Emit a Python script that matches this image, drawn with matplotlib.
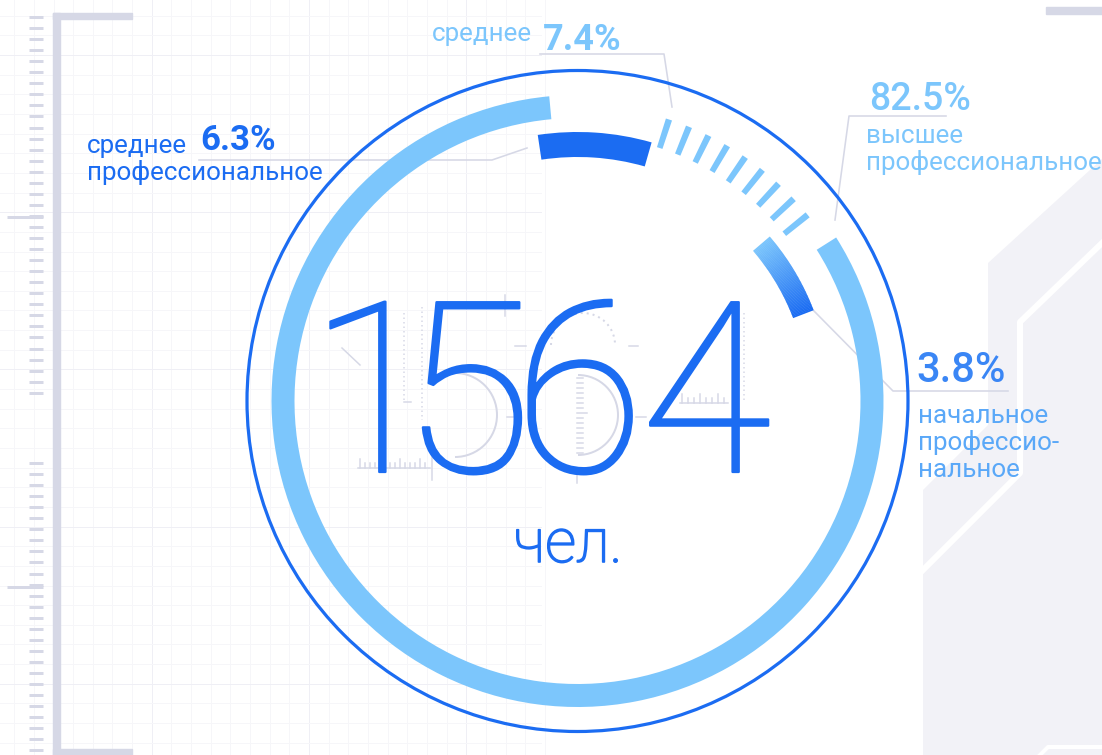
import numpy as np
import matplotlib.pyplot as plt
import matplotlib.patheffects as pe
from matplotlib.patches import Wedge, Polygon, Arc, Rectangle
from matplotlib.colors import to_rgb


# данные
shares = [6.3, 7.4, 82.5, 3.8]
share_labels = ['6.3%', '7.4%', '82.5%', '3.8%']
level_first = ['среднее', 'среднее', 'высшее', 'начальное']
level_rest = [['профессиональное'], [], ['профессиональное'], ['профессио-', 'нальное']]
total = '1564'
unit = 'чел.'

DARK = '#1b6cf2'
LIGHT = '#7cc6fc'
GREY = '#d6d8e6'
PALE = '#f2f2f7'
PX = 0.72  # px -> pt при dpi=100

cx, cy = 577.5, 401
plt.rcParams['font.family'] = ['Roboto', 'DejaVu Sans']


# дуга в экранных градусах (против часовой стрелки от a_from до a_to)
def ring(ax, r_out, width, a_from, a_to, color, z=3):
    ax.add_patch(Wedge((cx, cy), r_out, -a_to, -a_from, width=width,
                       facecolor=color, edgecolor='none', zorder=z))


def draw_background(ax):
    # сетка слева
    step = 19.65
    for i, x in enumerate(np.arange(-5.4, 545, step)):
        c = '#efeff5' if i % 8 == 0 else '#f6f6f9'
        ax.plot([x, x], [0, 755], color=c, lw=PX, zorder=0)
    for i, y in enumerate(np.arange(-3.95, 760, step)):
        c = '#efeff5' if i % 8 == 3 else '#f6f6f9'
        ax.plot([0, 541], [y, y], color=c, lw=PX, zorder=0)

    # линейка слева
    ax.add_patch(Rectangle((53, 13), 7, 742, color=GREY, zorder=1))
    ax.add_patch(Rectangle((53, 13), 79, 6, color=GREY, zorder=1))
    ax.add_patch(Rectangle((53, 749), 79, 6, color=GREY, zorder=1))
    for y in list(np.arange(17, 395, 11.05)) + list(np.arange(463, 755, 11.05)):
        ax.plot([29, 43], [y, y], color=GREY, lw=3 * PX, zorder=1, solid_capstyle='butt')
    for y in [217, 587]:
        ax.plot([7, 43], [y, y], color=GREY, lw=3 * PX, zorder=1, solid_capstyle='butt')

    # фигура справа
    ax.add_patch(Polygon([(1102, 159), (988, 263), (988, 425), (923, 490), (923, 755), (1102, 755)],
                         closed=True, facecolor=PALE, edgecolor='none', zorder=0))
    ax.plot([1102, 1020, 1020, 923], [243, 322, 473, 570], color='white', lw=6 * PX, zorder=0.5)
    ax.plot([1040, 1048, 1102], [755, 747, 747], color='white', lw=4 * PX, zorder=0.5)
    ax.add_patch(Rectangle((1046, 7), 56, 7, color=GREY, zorder=1))


def draw_number_marks(ax):
    kw = dict(color=GREY, lw=1.5 * PX, zorder=2)
    dot = dict(color=GREY, lw=1.5 * PX, zorder=2, ls=(0, (1, 2)))
    ax.plot([404, 404], [313, 400], **dot)
    ax.plot([404, 411], [402, 402], **kw)
    ax.plot([422, 422], [307, 420], **dot)
    ax.plot([358, 430], [468, 468], **kw)
    for i, x in enumerate(np.arange(360, 430, 5)):
        h = 9 if i % 4 == 0 else 5
        ax.plot([x, x], [468, 468 - h], **kw)
    ax.plot([432, 432], [455, 480], **kw)
    ax.plot([342, 360], [348, 365], **kw)
    ax.add_patch(Arc((455, 415), 84, 84, theta1=-90, theta2=90, color=GREY, lw=2 * PX, zorder=2))
    ax.plot([505, 505], [295, 316], **kw)
    ax.plot([507, 516], [417, 417], **kw)
    ax.add_patch(Arc((583, 345), 64, 64, theta1=180, theta2=360, color=GREY, lw=2 * PX,
                     ls=(0, (1, 2)), zorder=2))
    for y in np.arange(378, 456, 5):
        w = 10 if abs(y - 415) < 3 else 6
        ax.plot([577, 577 + w], [y, y], **kw)
    ax.add_patch(Arc((578, 415), 80, 80, theta1=-90, theta2=90, color=GREY, lw=2 * PX, zorder=2))
    ax.plot([515, 526], [346, 346], **kw)
    ax.plot([629, 638], [346, 346], **kw)
    ax.plot([636, 646], [417, 417], **kw)
    ax.plot([577, 577], [474, 483], **kw)
    ax.plot([680, 728], [403, 403], **kw)
    for i, x in enumerate(np.arange(682, 728, 6)):
        h = 9 if i % 3 == 0 else 5
        ax.plot([x, x], [403, 403 - h], **kw)
    ax.plot([744, 744], [313, 402], **dot)


def draw_rings(ax):
    # тонкая окружность
    ax.add_patch(plt.Circle((cx, cy), 330.5, fill=False, edgecolor=DARK, lw=3.2 * PX, zorder=3))

    # высшее 82.5%
    big_from = 95.3
    ring(ax, 306, 23, big_from, big_from + shares[2] * 3.6, LIGHT)

    # среднее профессиональное 6.3%
    a0 = 98.5
    ring(ax, 269, 25, a0 - shares[0] * 3.6 * 1.08, a0, DARK)

    # среднее 7.4% - штрихи
    centres = np.linspace(72, 72 - shares[1] * 3.6 * 1.24, 9)
    for a in centres:
        ring(ax, 296, 30, a - 0.62, a + 0.62, LIGHT)

    # начальное 3.8% - градиент
    g0 = 40.5
    g1 = g0 - shares[3] * 3.6 * 1.42
    n = 60
    edges = np.linspace(g0, g1, n + 1)
    c0, c1 = np.array(to_rgb(LIGHT)), np.array(to_rgb(DARK))
    for i in range(n):
        f = i / (n - 1)
        ring(ax, 253, 22, edges[i + 1] - 0.05, edges[i] + 0.05, tuple(c0 + (c1 - c0) * f))


def draw_labels(ax):
    lead = dict(color=GREY, lw=1.6 * PX, zorder=2.5)
    small = 18.7
    # 6.3%
    ax.plot([199, 492, 527], [160, 160, 148], **lead)
    ax.text(87, 153, level_first[0], color=DARK, fontsize=small, va='baseline')
    ax.text(200, 150, share_labels[0], color=DARK, fontsize=25, fontweight='bold', va='baseline')
    ax.text(87, 180, level_rest[0][0], color=DARK, fontsize=small, va='baseline')
    # 7.4%
    ax.plot([540, 664, 672], [54, 54, 107], **lead)
    ax.text(432, 41, level_first[1], color=LIGHT, fontsize=small, va='baseline')
    ax.text(543, 50, share_labels[1], color=LIGHT, fontsize=26, fontweight='bold', va='baseline')
    # 82.5%
    ax.plot([946, 849, 835], [116, 116, 220], **lead)
    ax.text(869, 110, share_labels[2], color=LIGHT, fontsize=27, fontweight='medium', va='baseline')
    ax.text(866, 143, level_first[2], color=LIGHT, fontsize=small, va='baseline')
    ax.text(866, 170, level_rest[2][0], color=LIGHT, fontsize=small, va='baseline')
    # 3.8%
    ax.plot([813, 893, 1008], [310, 391, 391], **lead)
    ax.text(916, 382, share_labels[3], color='#3a86f5', fontsize=30, fontweight='medium', va='baseline')
    ax.text(918, 423, level_first[3], color='#5aa8f8', fontsize=small, va='baseline')
    for i, s in enumerate(level_rest[3]):
        ax.text(918, 450 + 27 * i, s, color='#5aa8f8', fontsize=small, va='baseline')


def draw_total(ax):
    xs = [374, 467, 579, 706]
    thick = [pe.withStroke(linewidth=1.6, foreground=DARK)]
    for d, x in zip(total, xs):
        ax.text(x, 472, d, color=DARK, fontsize=172, fontweight=100, ha='center', va='baseline',
                zorder=4, path_effects=thick)
    ax.text(568, 562, unit, color=DARK, fontsize=44, fontweight=100, ha='center', va='baseline',
            zorder=4, path_effects=[pe.withStroke(linewidth=1.2, foreground=DARK)])


def main():
    fig = plt.figure(figsize=(11.02, 7.55), dpi=100)
    ax = fig.add_axes([0, 0, 1, 1])
    ax.set_xlim(0, 1102)
    ax.set_ylim(755, 0)
    ax.axis('off')
    draw_background(ax)
    draw_number_marks(ax)
    draw_rings(ax)
    draw_labels(ax)
    draw_total(ax)
    fig.savefig('out.png', dpi=100, facecolor='white')


main()
